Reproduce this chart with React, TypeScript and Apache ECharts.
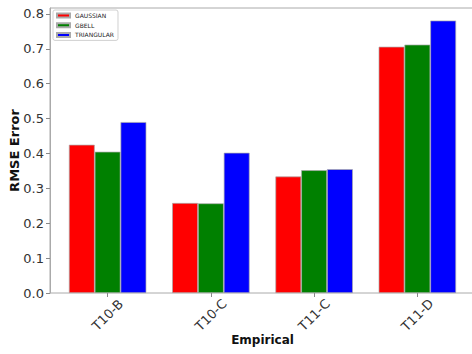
import React, { useEffect, useRef } from "react";
import * as echarts from "echarts";

const categories = ["T10-B", "T10-C", "T11-C", "T11-D"];
const gaussian = [0.425, 0.258, 0.334, 0.706];
const gbell = [0.405, 0.257, 0.352, 0.712];
const triangular = [0.49, 0.402, 0.355, 0.781];
const seriesNames = ["GAUSSIAN", "GBELL", "TRIANGULAR"];
const seriesColors = ["#ff0000", "#008000", "#0000ff"];

const FONT = "DejaVu Sans";

export default function App() {
  const ref = useRef<HTMLDivElement>(null);
  useEffect(() => {
    if (!ref.current) return;
    const chart = echarts.init(ref.current, null, { renderer: "svg" });
    const yMax = 0.817;
    const values = [gaussian, gbell, triangular];
    chart.setOption({
      animation: false,
      backgroundColor: "#ffffff",
      grid: [
        { left: 50, right: -3, top: 8, bottom: 61, show: true, borderColor: "#aaaaaa", borderWidth: 1, outerBoundsMode: "none", containLabel: false },
        { left: 56, right: 3, top: 8, bottom: 61, outerBoundsMode: "none", containLabel: false },
      ],
      legend: {
        left: 53,
        top: 10,
        orient: "vertical",
        icon: "rect",
        itemWidth: 13,
        itemHeight: 4,
        itemGap: 2.7,
        padding: [2, 4, 2, 3],
        borderColor: "#d0d0d0",
        borderWidth: 1,
        borderRadius: 2,
        backgroundColor: "#ffffff",
        textStyle: { fontFamily: FONT, fontSize: 6, color: "#222", lineHeight: 7, padding: [0, 0, 0, 0] },
        data: seriesNames,
      },
      xAxis: [
        { type: "value", gridIndex: 0, show: false, min: 0, max: 1 },
        {
          type: "category",
          gridIndex: 1,
          data: categories,
          name: "Empirical",
          nameLocation: "middle",
          nameGap: 47,
          nameMoveOverlap: false,
          nameTextStyle: { fontFamily: FONT, fontSize: 12, fontWeight: "bold", color: "#111", verticalAlign: "middle" },
          axisLine: { show: false },
          axisTick: { show: true, alignWithLabel: true, length: 4, lineStyle: { color: "#888" } },
          axisLabel: {
            rotate: 45,
            align: "center",
            verticalAlign: "middle",
            margin: 22,
            fontFamily: FONT,
            fontSize: 13,
            color: "#333",
          },
        },
      ],
      yAxis: [
        {
          type: "value",
          gridIndex: 0,
          min: 0,
          max: yMax,
          interval: 0.1,
          name: "RMSE Error",
          nameLocation: "middle",
          nameGap: 29,
          nameMoveOverlap: false,
          nameTextStyle: { fontFamily: FONT, fontSize: 13, fontWeight: "bold", color: "#111" },
          axisLine: { show: true, lineStyle: { color: "#aaaaaa" } },
          axisTick: { show: true, length: 4, lineStyle: { color: "#888" } },
          splitLine: { show: false },
          axisLabel: {
            showMaxLabel: false,
            margin: 6,
            fontFamily: FONT,
            fontSize: 13,
            color: "#333",
            formatter: (v: number) => v.toFixed(1),
          },
        },
        { type: "value", gridIndex: 1, min: 0, max: yMax, show: false },
      ],
      series: seriesNames.map((name, i) => ({
        name,
        type: "bar",
        xAxisIndex: 1,
        yAxisIndex: 1,
        data: values[i],
        barGap: "0%",
        barCategoryGap: "25%",
        itemStyle: { color: seriesColors[i], borderColor: "#aaaaaa", borderWidth: 0.7 },
      })),
    });
    return () => chart.dispose();
  }, []);
  return <div ref={ref} style={{ position: "fixed", left: 0, top: 0, width: 472, height: 354 }} />;
}
